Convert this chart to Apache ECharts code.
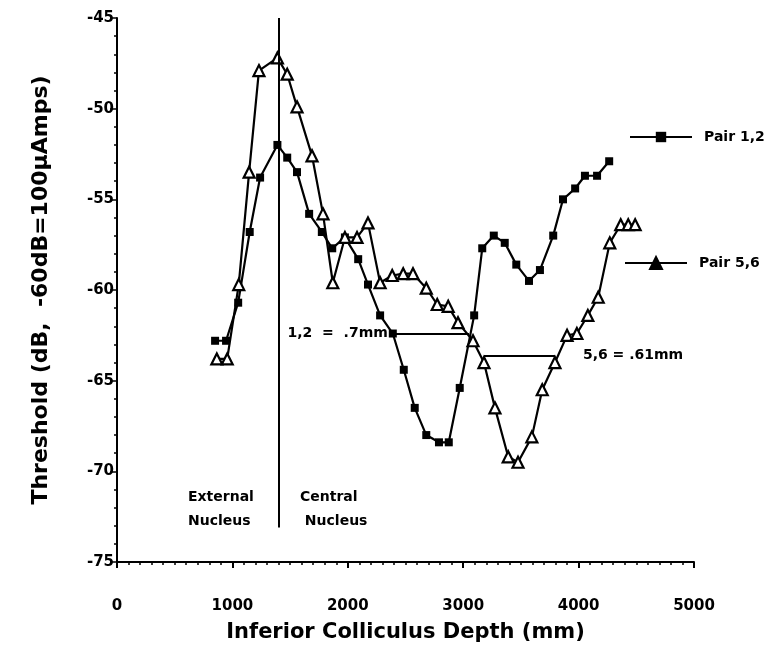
<!DOCTYPE html>
<html>
<head>
<meta charset="utf-8">
<script src="https://cdn.jsdelivr.net/npm/echarts@6/dist/echarts.min.js"></script>
<style>
  html, body { margin: 0; padding: 0; background: #fff; }
  #chart { width: 783px; height: 650px; }
</style>
</head>
<body>
<div id="chart"></div>
<script>
// Pair 1,2 (filled squares)
var depth12 = [850, 945, 1050, 1150, 1240, 1390, 1475, 1560, 1665, 1775, 1865, 1975, 2090, 2175, 2280, 2390,
    2485, 2580, 2680, 2790, 2875, 2970, 3095, 3165, 3265, 3360, 3460, 3570, 3665, 3780, 3865, 3970, 4055, 4160, 4265];
var thresh12 = [-62.8, -62.8, -60.7, -56.8, -53.8, -52.0, -52.7, -53.5, -55.8, -56.8, -57.7, -57.1, -58.3, -59.7, -61.4, -62.4,
    -64.4, -66.5, -68.0, -68.4, -68.4, -65.4, -61.4, -57.7, -57.0, -57.4, -58.6, -59.5, -58.9, -57.0, -55.0, -54.4, -53.7, -53.7, -52.9];

// Pair 5,6 (open triangles)
var depth56 = [865, 955, 1055, 1145, 1230, 1390, 1475, 1560, 1690, 1785, 1870, 1975, 2080, 2175, 2280, 2385, 2480, 2565,
    2680, 2775, 2870, 2955, 3085, 3180, 3275, 3390, 3475, 3595, 3685, 3795, 3900, 3985, 4080, 4170, 4270, 4365, 4430, 4490];
var thresh56 = [-63.8, -63.8, -59.7, -53.5, -47.9, -47.2, -48.1, -49.9, -52.6, -55.8, -59.6, -57.1, -57.1, -56.3, -59.6, -59.2, -59.1, -59.1,
    -59.9, -60.8, -60.9, -61.8, -62.8, -64.0, -66.5, -69.2, -69.5, -68.1, -65.5, -64.0, -62.5, -62.4, -61.4, -60.4, -57.4, -56.4, -56.4, -56.4];

// border between external and central nucleus, and the two width bars
var borderDepth = 1400;
var bar12 = { from: 2390, to: 3050, level: -62.4, text: '1,2  =  .7mm' };
var bar56 = { from: 3180, to: 3795, level: -63.6, text: '5,6 = .61mm' };

var font = 'DejaVu Sans';

function pairs(xs, ys) {
    var out = [];
    for (var i = 0; i < xs.length; i++) out.push([xs[i], ys[i]]);
    return out;
}

var chart = echarts.init(document.getElementById('chart'));
var option = {
    backgroundColor: '#fff',
    animation: false,
    grid: { left: 117, right: 89, top: 18, bottom: 88 },
    legend: [
        {
            data: ['Pair 1,2'], left: 624, top: 125,
            itemWidth: 62, itemHeight: 13,
            itemStyle: { color: '#000', borderColor: '#000' },
            textStyle: { fontFamily: font, fontWeight: 'bold', fontSize: 14, color: '#000', padding: [0, 0, 0, 7] }
        },
        {
            data: ['Pair 5,6'], left: 619, top: 251,
            itemWidth: 62, itemHeight: 15,
            itemStyle: { color: '#000', borderColor: '#000' },
            textStyle: { fontFamily: font, fontWeight: 'bold', fontSize: 14, color: '#000', padding: [0, 0, 0, 7] }
        }
    ],
    xAxis: {
        type: 'value', min: 0, max: 5000, interval: 1000,
        name: 'Inferior Colliculus Depth (mm)', nameLocation: 'middle', nameGap: 60,
        nameTextStyle: { fontFamily: font, fontWeight: 'bold', fontSize: 21, color: '#000' },
        axisLine: { lineStyle: { color: '#000', width: 2 } },
        axisTick: { show: true, length: 6, lineStyle: { color: '#000', width: 2 } },
        minorTick: { show: true, splitNumber: 10, length: 3, lineStyle: { color: '#000', width: 1.5 } },
        splitLine: { show: false },
        axisLabel: { margin: 37, fontFamily: font, fontWeight: 'bold', fontSize: 15, color: '#000',
            formatter: function (v) { return String(v); } }
    },
    yAxis: {
        type: 'value', min: -75, max: -45, interval: 5,
        name: 'Threshold (dB,  -60dB=100\u00b5Amps)', nameLocation: 'middle', nameGap: 65, nameRotate: 90,
        nameTextStyle: { fontFamily: font, fontWeight: 'bold', fontSize: 22, color: '#000' },
        axisLine: { lineStyle: { color: '#000', width: 2 } },
        axisTick: { show: true, length: 7, lineStyle: { color: '#000', width: 1.5 } },
        minorTick: { show: true, splitNumber: 5, length: 3, lineStyle: { color: '#000', width: 1.5 } },
        splitLine: { show: false },
        axisLabel: { margin: 3, fontFamily: font, fontWeight: 'bold', fontSize: 15, color: '#000',
            formatter: function (v) { return String(v); } }
    },
    graphic: [
        { type: 'text', left: 188, top: 485, style: { text: 'External\nNucleus', fontFamily: font, fontWeight: 'bold', fontSize: 14, lineHeight: 24, fill: '#000' } },
        { type: 'text', left: 300, top: 485, style: { text: 'Central\n Nucleus', fontFamily: font, fontWeight: 'bold', fontSize: 14, lineHeight: 24, fill: '#000' } }
    ],
    series: [
        {
            name: 'Pair 1,2', type: 'line',
            data: pairs(depth12, thresh12),
            symbol: 'rect', symbolSize: 8,
            itemStyle: { color: '#000' },
            lineStyle: { color: '#000', width: 2.2 },
            markLine: {
                silent: true, symbol: 'none', animation: false,
                lineStyle: { color: '#000', width: 2, type: 'solid' },
                label: { show: false },
                data: [
                    [{ coord: [borderDepth, -45] }, { coord: [borderDepth, -73.1] }],
                    [
                        {
                            coord: [bar12.from, bar12.level],
                            label: { show: true, position: 'start', formatter: bar12.text, distance: 5,
                                fontFamily: font, fontWeight: 'bold', fontSize: 14, color: '#000' }
                        },
                        { coord: [bar12.to, bar12.level] }
                    ]
                ]
            }
        },
        {
            name: 'Pair 5,6', type: 'line',
            data: pairs(depth56, thresh56),
            symbol: 'triangle', symbolSize: 11,
            itemStyle: { color: '#fff', borderColor: '#000', borderWidth: 2.2 },
            lineStyle: { color: '#000', width: 2.2 },
            markLine: {
                silent: true, symbol: 'none', animation: false,
                lineStyle: { color: '#000', width: 2, type: 'solid' },
                label: { show: false },
                data: [
                    [
                        { coord: [bar56.from, bar56.level] },
                        {
                            coord: [bar56.to, bar56.level],
                            label: { show: true, position: 'end', formatter: bar56.text, distance: 28,
                                fontFamily: font, fontWeight: 'bold', fontSize: 14, color: '#000' }
                        }
                    ]
                ]
            }
        }
    ]
};
chart.setOption(option);
</script>
</body>
</html>
